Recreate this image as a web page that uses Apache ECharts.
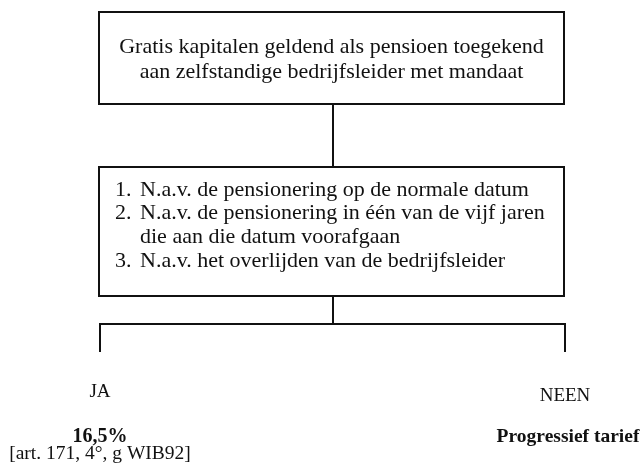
<!DOCTYPE html>
<html>
<head>
<meta charset="utf-8">
<script src="https://cdn.jsdelivr.net/npm/echarts@6/dist/echarts.min.js"></script>
<style>
  html, body { margin: 0; padding: 0; background: #fff; }
  #chart { width: 642px; height: 470px; }
</style>
</head>
<body>
<div id="chart"></div>
<script>
// texts of the diagram
var topBoxLines = [
  'Gratis kapitalen geldend als pensioen toegekend',
  'aan zelfstandige bedrijfsleider met mandaat'
];
var conditionNumbers = ['1.', '2.', '', '3.'];
var conditionLines = [
  'N.a.v. de pensionering op de normale datum',
  'N.a.v. de pensionering in één van de vijf jaren',
  'die aan die datum voorafgaan',
  'N.a.v. het overlijden van de bedrijfsleider'
];
var branchLabels = ['JA', 'NEEN'];
var branchResults = ['16,5%', 'Progressief tarief'];
var branchNotes = ['[art. 171, 4°, g WIB92]', ''];

var FONT = '"Liberation Serif", "DejaVu Serif", serif';
var ink = '#111';

var chart = echarts.init(document.getElementById('chart'));

var boxL = 99, boxR = 564;
var midX = 333;
var branchX = [100, 565];

var g = [];

function rect(x, y, w, h) {
  g.push({
    type: 'rect',
    shape: { x: x, y: y, width: w, height: h },
    style: { fill: '#fff', stroke: ink, lineWidth: 2 }
  });
}
function line(x1, y1, x2, y2) {
  g.push({
    type: 'line',
    shape: { x1: x1, y1: y1, x2: x2, y2: y2 },
    style: { stroke: ink, lineWidth: 2 }
  });
}
function text(str, x, y, align, bold, size) {
  g.push({
    type: 'text',
    x: x, y: y,
    style: {
      text: str,
      fill: ink,
      font: (bold ? 'bold ' : '') + (size || 22) + 'px ' + FONT,
      textAlign: align || 'center',
      textVerticalAlign: 'middle'
    }
  });
}

// connectors
line(midX, 104, midX, 167);
line(midX, 296, midX, 324);
line(branchX[0] - 1, 324, branchX[1] + 1, 324);
line(branchX[0], 324, branchX[0], 352);
line(branchX[1], 324, branchX[1], 352);

// boxes
rect(boxL, 12, boxR - boxL, 92);
rect(boxL, 167, boxR - boxL, 129);

topBoxLines.forEach(function (s, i) {
  text(s, (boxL + boxR) / 2, 47 + i * 25);
});
conditionLines.forEach(function (s, i) {
  var y = 190 + i * 23.7;
  if (conditionNumbers[i]) text(conditionNumbers[i], 115, y, 'left');
  text(s, 140, y, 'left');
});

branchLabels.forEach(function (s, i) {
  text(s, branchX[i], 392 + i * 4, 'center', false, 19);
});
branchResults.forEach(function (s, i) {
  text(s, branchX[i] + (i ? 3 : 0), 437, 'center', true, i ? 19.5 : 20);
});
branchNotes.forEach(function (s, i) {
  if (s) text(s, branchX[i], 454, 'center', false, 19.5);
});

chart.setOption({
  animation: false,
  backgroundColor: '#fff',
  graphic: g
});
</script>
</body>
</html>
